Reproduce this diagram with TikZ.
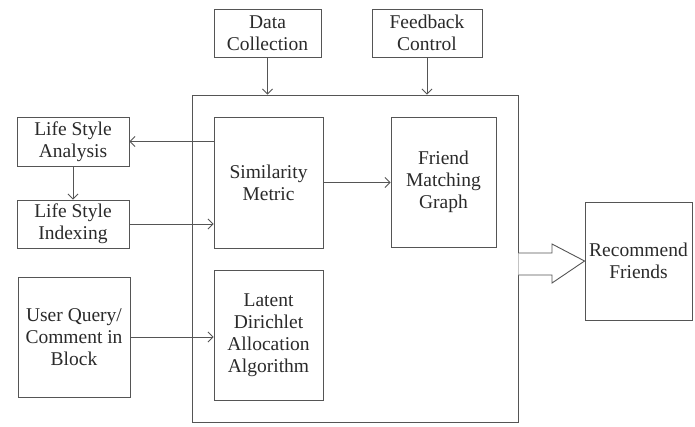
\documentclass[tikz,border=0pt]{standalone}
\usepackage{fontspec}
\setmainfont{Liberation Serif}
\usetikzlibrary{arrows.meta}
\definecolor{ln}{HTML}{555555}
\definecolor{tx}{HTML}{2a2a2a}
\begin{document}
\begin{tikzpicture}[x=1pt,y=-1pt,
  box/.style={draw=ln, line width=0.9pt, fill=white, align=center, inner sep=0pt,
    text=tx, font=\fontsize{19.5}{22}\selectfont},
  conn/.style={draw=ln, line width=0.9pt, -{Straight Barb[length=5pt,width=10pt]}}]
\useasboundingbox (0,0) rectangle (695,426);
\node[box, minimum width=326pt, minimum height=327pt] (main) at (355,258.5) {};
\node[box, minimum width=107pt, minimum height=48pt] (dc) at (267.5,33) {Data\\Collection};
\node[box, minimum width=110pt, minimum height=48pt] (fb) at (427,33) {Feedback\\Control};
\node[box, minimum width=112pt, minimum height=49pt] (lsa) at (73,141.5) {Life Style\\Analysis};
\node[box, minimum width=112pt, minimum height=48pt] (lsi) at (73,224) {Life Style\\Indexing};
\node[box, minimum width=109pt, minimum height=131pt] (sm) at (268.5,182.5) {Similarity\\Metric};
\node[box, minimum width=105pt, minimum height=130pt] (fmg) at (443.5,182) {Friend\\Matching\\Graph};
\node[box, minimum width=109pt, minimum height=130pt] (lda) at (268.5,335) {Latent\\Dirichlet\\Allocation\\Algorithm};
\node[box, minimum width=112pt, minimum height=120pt] (uq) at (74,337) {User Query/\\Comment in\\Block};
\node[box, minimum width=107pt, minimum height=118pt] (rf) at (638.5,261) {Recommend\\Friends};
\draw[conn] (dc.south) -- (dc.south |- main.north);
\draw[conn] (fb.south) -- (fb.south |- main.north);
\draw[conn] (lsa.east -| sm.west) -- (lsa.east);
\draw[conn] (lsa.south) -- (lsa.south |- lsi.north);
\draw[conn] (lsi.east) -- (lsi.east -| sm.west);
\draw[conn] (sm.east) -- (sm.east -| fmg.west);
\draw[conn] (uq.east) -- (uq.east -| lda.west);
\draw[draw=ln, line width=0.9pt, fill=white]
  (main.east |- 0,253) -- (552,253) -- (552,244) -- (rf.west) -- (552,283) -- (552,275) -- (main.east |- 0,275);
\end{tikzpicture}
\end{document}
